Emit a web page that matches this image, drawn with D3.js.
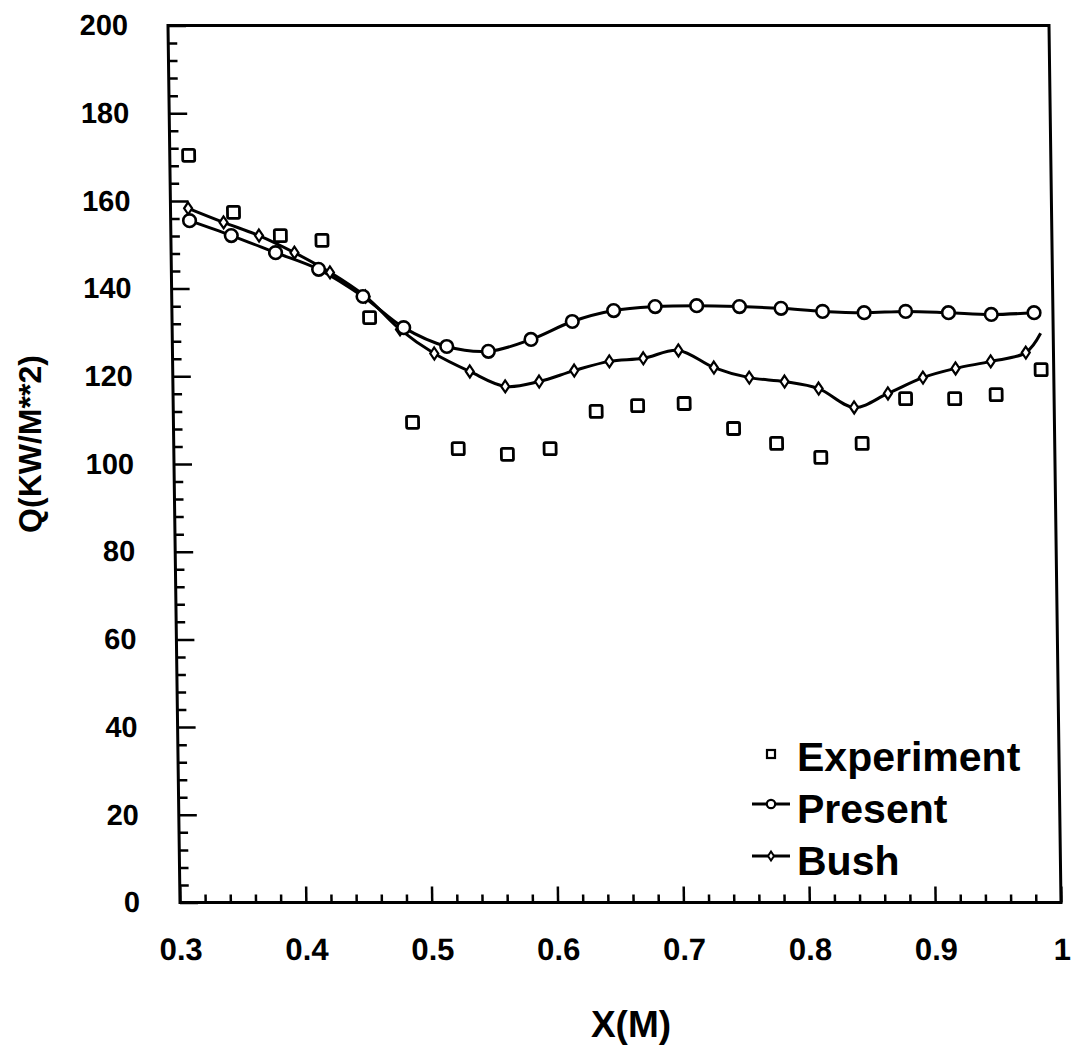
<!DOCTYPE html>
<html>
<head>
<meta charset="utf-8">
<script src="https://cdn.jsdelivr.net/npm/d3@7/dist/d3.min.js"></script>
<style>
  html, body { margin: 0; padding: 0; background: #fff; }
  svg { display: block; }
  text { font-family: "Liberation Sans", Arial, Helvetica, sans-serif; font-weight: bold; fill: #000; }
</style>
</head>
<body>
<svg id="chart" width="1073" height="1045"></svg>
<script>
// Heat flux along the wall: measurements vs. two predictions
const expX = [0.315, 0.350, 0.387, 0.420, 0.457, 0.490, 0.526, 0.565, 0.599, 0.636,
              0.669, 0.706, 0.745, 0.779, 0.814, 0.847, 0.882, 0.921, 0.954, 0.990];
const expQ = [170.4, 157.4, 152.1, 151.0, 133.4, 109.5, 103.5, 102.2, 103.5, 112.0,
              113.3, 113.8, 108.1, 104.7, 101.5, 104.7, 114.9, 114.9, 115.8, 121.5];

const presentX = [0.315, 0.348, 0.383, 0.417, 0.452, 0.484, 0.518, 0.551, 0.585, 0.618, 0.651,
                  0.684, 0.717, 0.751, 0.784, 0.817, 0.850, 0.883, 0.917, 0.951, 0.985];
const presentQ = [155.5, 152.1, 148.2, 144.4, 138.2, 131.1, 126.8, 125.7, 128.4, 132.5, 135.0,
                  135.9, 136.1, 135.9, 135.5, 134.8, 134.5, 134.8, 134.5, 134.1, 134.5];

// last Bush entry is the end of the curve, drawn without a marker
const bushX = [0.314, 0.342, 0.370, 0.398, 0.426, 0.454, 0.481, 0.508, 0.536, 0.564, 0.591, 0.619, 0.647,
               0.674, 0.702, 0.730, 0.758, 0.786, 0.813, 0.841, 0.868, 0.896, 0.922, 0.950, 0.978, 0.990];
const bushQ = [158.3, 155.1, 152.1, 148.2, 143.7, 138.2, 130.7, 125.2, 121.1, 117.7, 118.8, 121.3, 123.4,
               124.1, 125.9, 122.0, 119.7, 118.8, 117.2, 112.9, 116.1, 119.7, 121.8, 123.4, 125.4, 129.8];

const xTickValues = [0.3, 0.4, 0.5, 0.6, 0.7, 0.8, 0.9, 1.0];
const xTickLabels = ["0.3", "0.4", "0.5", "0.6", "0.7", "0.8", "0.9", "1"];
const yTickValues = [0, 20, 40, 60, 80, 100, 120, 140, 160, 180, 200];
const yTickLabels = ["0", "20", "40", "60", "80", "100", "120", "140", "160", "180", "200"];

const legendLabels = ["Experiment", "Present", "Bush"];

const W = 881, H = 877;
const svg = d3.select("#chart");

// the plotted frame leans slightly to the right towards the bottom
const lean = 12 / H;
const plot = svg.append("g")
  .attr("transform", `matrix(1,0,${lean},1,168,25.5)`);

const x = d3.scaleLinear().domain([0.3, 1.0]).range([0, W]);
const y = d3.scaleLinear().domain([0, 200]).range([H, 0]);

// frame
plot.append("rect")
  .attr("x", 0).attr("y", 0).attr("width", W).attr("height", H)
  .attr("fill", "none").attr("stroke", "#000").attr("stroke-width", 3);

// minor ticks
const xMinor = d3.range(0.32, 1.0, 0.02).filter(v => Math.abs(v * 10 - Math.round(v * 10)) > 1e-6);
const yMinor = d3.range(4, 200, 4).filter(v => v % 20 !== 0);

plot.append("g").attr("transform", `translate(0,${H})`)
  .call(d3.axisBottom(x).tickValues(xMinor).tickSize(-8).tickFormat(""))
  .call(g => g.select(".domain").remove())
  .selectAll("line").attr("stroke-width", 2.5);

plot.append("g")
  .call(d3.axisLeft(y).tickValues(yMinor).tickSize(-9).tickFormat(""))
  .call(g => g.select(".domain").remove())
  .selectAll("line").attr("stroke-width", 2.5);

// major ticks and labels
const xAxis = plot.append("g").attr("transform", `translate(0,${H})`)
  .call(d3.axisBottom(x).tickValues(xTickValues).tickSize(-16).tickPadding(36)
    .tickFormat((d, i) => xTickLabels[i]))
  .call(g => g.select(".domain").remove());
xAxis.selectAll("line").attr("stroke-width", 2.5);
xAxis.selectAll("text").attr("font-size", 31).attr("font-family", null).attr("fill", "#000");

const yAxis = plot.append("g")
  .call(d3.axisLeft(y).tickValues(yTickValues).tickSize(-18).tickPadding(40)
    .tickFormat((d, i) => yTickLabels[i]))
  .call(g => g.select(".domain").remove());
yAxis.selectAll("line").attr("stroke-width", 2.5);
yAxis.selectAll("text").attr("font-size", 29).attr("font-family", null).attr("fill", "#000");
plot.selectAll(".tick line").attr("stroke", "#000");

// curves
const line = d3.line()
  .x(d => x(d[0])).y(d => y(d[1]))
  .curve(d3.curveCatmullRom.alpha(0.5));

const presentPts = presentX.map((v, i) => [v, presentQ[i]]);
const bushPts = bushX.map((v, i) => [v, bushQ[i]]);
const expPts = expX.map((v, i) => [v, expQ[i]]);

plot.append("path").datum(presentPts).attr("d", line)
  .attr("fill", "none").attr("stroke", "#000").attr("stroke-width", 3);
plot.append("path").datum(bushPts).attr("d", line)
  .attr("fill", "none").attr("stroke", "#000").attr("stroke-width", 3);

// markers
const diamond = (w, h) => `M0,${-h}L${w},0L0,${h}L${-w},0Z`;

plot.append("g").selectAll("path").data(bushPts.slice(0, -1)).join("path")
  .attr("transform", d => `translate(${x(d[0])},${y(d[1])})`)
  .attr("d", diamond(4, 6))
  .attr("fill", "#fff").attr("stroke", "#000").attr("stroke-width", 2.2);

plot.append("g").selectAll("circle").data(presentPts).join("circle")
  .attr("cx", d => x(d[0])).attr("cy", d => y(d[1])).attr("r", 6.3)
  .attr("fill", "#fff").attr("stroke", "#000").attr("stroke-width", 2.6);

plot.append("g").selectAll("rect").data(expPts).join("rect")
  .attr("x", d => x(d[0]) - 6).attr("y", d => y(d[1]) - 6)
  .attr("width", 12).attr("height", 12).attr("rx", 1.5)
  .attr("fill", "#fff").attr("stroke", "#000").attr("stroke-width", 2.8);

// axis titles
svg.append("text")
  .attr("transform", "translate(41,444) rotate(-90)")
  .attr("text-anchor", "middle")
  .attr("font-size", 32)
  .text("Q(KW/M**2)");

svg.append("text")
  .attr("x", 631).attr("y", 1037)
  .attr("text-anchor", "middle")
  .attr("font-size", 37)
  .text("X(M)");

// legend
const legend = svg.append("g");
const rowY = [771, 823, 875];
legend.selectAll("text").data(legendLabels).join("text")
  .attr("x", 797).attr("y", (d, i) => rowY[i])
  .attr("font-size", 41)
  .text(d => d);

legend.append("rect")
  .attr("x", 767).attr("y", rowY[0] - 21).attr("width", 8).attr("height", 8)
  .attr("fill", "#fff").attr("stroke", "#000").attr("stroke-width", 2.2);

[1, 2].forEach(i => {
  legend.append("line")
    .attr("x1", 752).attr("x2", 790)
    .attr("y1", rowY[i] - 19).attr("y2", rowY[i] - 19)
    .attr("stroke", "#000").attr("stroke-width", 3);
});
legend.append("circle")
  .attr("cx", 771).attr("cy", rowY[1] - 19).attr("r", 4.2)
  .attr("fill", "#fff").attr("stroke", "#000").attr("stroke-width", 2.2);
legend.append("path")
  .attr("transform", `translate(771,${rowY[2] - 19})`)
  .attr("d", diamond(3, 4.5))
  .attr("fill", "#fff").attr("stroke", "#000").attr("stroke-width", 2);
</script>
</body>
</html>
